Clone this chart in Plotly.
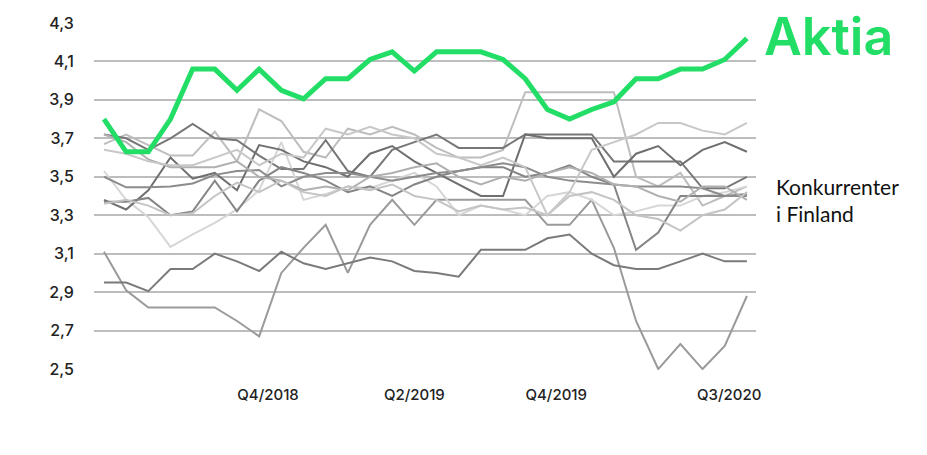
import plotly.graph_objects as go

# x positions: 30 periods (index), tick labels at fractional positions
periods = list(range(30))
tick_pos = [7.4, 14.0, 20.4, 28.2]
tick_labels = ["Q4/2018", "Q2/2019", "Q4/2019", "Q3/2020"]
y_ticks = [2.5, 2.7, 2.9, 3.1, 3.3, 3.5, 3.7, 3.9, 4.1, 4.3]

aktia = [3.80, 3.63, 3.63, 3.80, 4.06, 4.06, 3.95, 4.06, 3.95, 3.905, 4.01, 4.01, 4.11, 4.15, 4.05,
         4.15, 4.15, 4.15, 4.11, 4.01, 3.85, 3.80, 3.85, 3.89, 4.01, 4.01, 4.06, 4.06, 4.11, 4.22]

comp1 = [3.11, 2.91, 2.82, 2.82, 2.82, 2.82, 2.75, 2.67, 3.00, 3.13, 3.25, 3.00, 3.25, 3.38, 3.25,
         3.38, 3.38, 3.38, 3.38, 3.38, 3.25, 3.25, 3.38, 3.13, 2.75, 2.50, 2.63, 2.50, 2.62, 2.88]
comp2 = [2.95, 2.95, 2.905, 3.02, 3.02, 3.10, 3.06, 3.01, 3.11, 3.05, 3.02, 3.05, 3.08, 3.06, 3.01,
         3.00, 2.98, 3.12, 3.12, 3.12, 3.18, 3.20, 3.10, 3.04, 3.02, 3.02, 3.06, 3.10, 3.06, 3.06]
comp3 = [3.67, 3.72, 3.665, 3.61, 3.61, 3.735, 3.58, 3.85, 3.79, 3.63, 3.60, 3.75, 3.72, 3.76, 3.72,
         3.65, 3.60, 3.60, 3.64, 3.94, 3.94, 3.94, 3.94, 3.94, 3.50, 3.45, 3.52, 3.35, 3.40, 3.45]
comp4 = [3.72, 3.70, 3.64, 3.70, 3.775, 3.70, 3.69, 3.61, 3.54, 3.54, 3.69, 3.53, 3.50, 3.64, 3.68,
         3.72, 3.65, 3.65, 3.65, 3.72, 3.72, 3.72, 3.72, 3.58, 3.58, 3.58, 3.58, 3.44, 3.44, 3.50]
comp5 = [3.53, 3.38, 3.29, 3.135, 3.20, 3.26, 3.33, 3.43, 3.68, 3.38, 3.41, 3.45, 3.44, 3.48, 3.52,
         3.45, 3.30, 3.35, 3.33, 3.30, 3.40, 3.42, 3.38, 3.30, 3.32, 3.35, 3.35, 3.40, 3.42, 3.45]
comp6 = [3.38, 3.33, 3.43, 3.60, 3.49, 3.52, 3.43, 3.665, 3.64, 3.58, 3.55, 3.50, 3.62, 3.66, 3.58,
         3.52, 3.46, 3.40, 3.40, 3.72, 3.70, 3.70, 3.70, 3.50, 3.62, 3.66, 3.56, 3.64, 3.68, 3.63]
comp7 = [3.37, 3.37, 3.39, 3.30, 3.32, 3.48, 3.32, 3.48, 3.55, 3.52, 3.48, 3.42, 3.45, 3.40, 3.46,
         3.50, 3.53, 3.55, 3.55, 3.50, 3.52, 3.56, 3.50, 3.46, 3.12, 3.21, 3.40, 3.40, 3.40, 3.41]
comp8 = [3.50, 3.445, 3.445, 3.45, 3.465, 3.51, 3.53, 3.535, 3.45, 3.50, 3.52, 3.52, 3.50, 3.48, 3.50,
         3.52, 3.53, 3.55, 3.57, 3.55, 3.50, 3.48, 3.47, 3.46, 3.45, 3.45, 3.45, 3.44, 3.40, 3.40]
comp9 = [3.72, 3.68, 3.59, 3.55, 3.55, 3.55, 3.58, 3.50, 3.48, 3.43, 3.45, 3.43, 3.50, 3.52, 3.55,
         3.57, 3.50, 3.46, 3.50, 3.48, 3.52, 3.55, 3.52, 3.46, 3.45, 3.40, 3.37, 3.45, 3.45, 3.38]
comp10 = [3.36, 3.38, 3.35, 3.30, 3.31, 3.40, 3.47, 3.42, 3.48, 3.42, 3.40, 3.45, 3.43, 3.46, 3.40,
          3.38, 3.32, 3.35, 3.33, 3.34, 3.30, 3.40, 3.42, 3.38, 3.30, 3.28, 3.22, 3.30, 3.33, 3.42]
comp11 = [3.64, 3.62, 3.58, 3.56, 3.56, 3.60, 3.64, 3.56, 3.62, 3.60, 3.75, 3.72, 3.76, 3.72, 3.70,
          3.62, 3.60, 3.56, 3.60, 3.55, 3.30, 3.42, 3.64, 3.68, 3.72, 3.78, 3.78, 3.74, 3.72, 3.78]

competitors = [
    (comp1, "#9a9a9a"), (comp2, "#7a7a7a"), (comp3, "#bdbdbd"), (comp4, "#777777"),
    (comp5, "#d6d6d6"), (comp6, "#6f6f6f"), (comp7, "#858585"), (comp8, "#8c8c8c"),
    (comp9, "#b0b0b0"), (comp10, "#c4c4c4"), (comp11, "#c8c8c8"),
]

fig = go.Figure()
for vals, col in competitors:
    fig.add_trace(go.Scatter(x=periods, y=vals, mode="lines",
                             line=dict(color=col, width=2), hoverinfo="skip"))
fig.add_trace(go.Scatter(x=periods, y=aktia, mode="lines",
                         line=dict(color="#22dd66", width=5), hoverinfo="skip"))

fig.add_annotation(text="Aktia", xref="paper", yref="paper", x=1.0, y=1.0,
                   xanchor="left", yanchor="middle", xshift=6, yshift=-14,
                   showarrow=False, font=dict(family="Inter", size=52, color="#22dd66", weight=600))
fig.add_annotation(text="Konkurrenter<br>i Finland", xref="paper", yref="paper", x=1.0, y=0.489,
                   xanchor="left", yanchor="middle", xshift=18, align="left",
                   showarrow=False, font=dict(family="Lato", size=21, color="#111111"))

fig.update_layout(
    width=927, height=455,
    margin=dict(l=94, r=171, t=22, b=85),
    paper_bgcolor="white", plot_bgcolor="white",
    showlegend=False,
    separators=", ",
    xaxis=dict(range=[-0.45, 29.41], tickvals=tick_pos, ticktext=tick_labels,
               showgrid=False, zeroline=False, showline=False, ticks="",
               tickfont=dict(family="Inter", size=15, color="#222222", weight=500),
               ticklabelstandoff=14, automargin=False),
    yaxis=dict(range=[2.495, 4.305], tickvals=y_ticks, tickformat=".1f",
               showgrid=True, gridcolor="#bdbdbd", gridwidth=1.5, zeroline=False,
               showline=False, ticks="outside", ticklen=16, tickcolor="rgba(0,0,0,0)",
               automargin=False,
               tickfont=dict(family="Inter", size=16, color="#222222", weight=500)),
)
# remove the default page margin so the figure sits at the window's top-left corner
fig.write_html("out.html", config={"displayModeBar": False},
               post_script="document.body.style.margin='0';")
